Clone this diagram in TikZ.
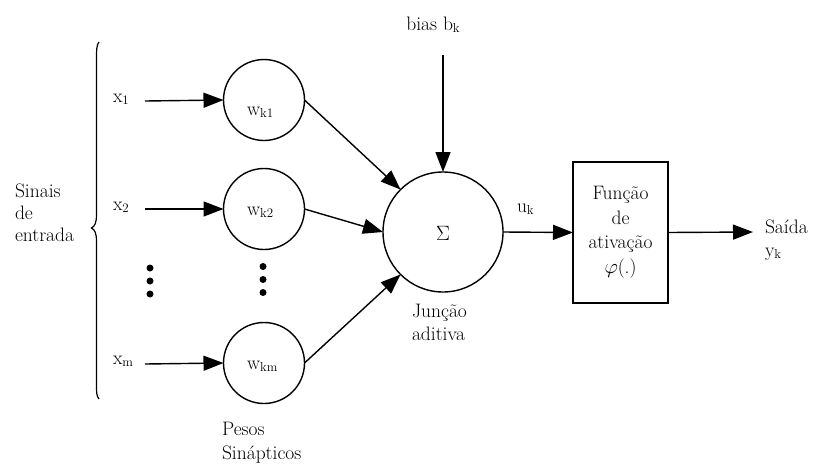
\documentclass[tikz,border=0pt]{standalone}
\usepackage{fontspec}
\usetikzlibrary{arrows.meta}
% lowered small index used for subscripts
\newcommand\lowsub[1]{\raisebox{-0.35ex}{\fontsize{13}{13}\selectfont #1}}
\begin{document}
\begin{tikzpicture}[x=1pt,y=-1pt,
  every node/.style={font=\fontsize{19.5}{22}\selectfont, inner sep=0pt, outer sep=0pt},
  txt/.style={anchor=base west},
  feed/.style={line width=1.4pt, -{Triangle[length=20pt,width=15pt]}},
  weight/.style={circle, draw, line width=1.4pt, minimum size=81pt},
  summer/.style={circle, draw, line width=1.4pt, minimum size=120pt},
  actbox/.style={rectangle, draw, line width=1.4pt, minimum width=95pt,
    minimum height=141pt, align=center, font=\fontsize{19.5}{24.5}\selectfont},
  dot/.style={circle, fill, minimum size=7pt}]
\useasboundingbox (0,0) rectangle (813,463);

% input-signal brace and its label
\draw[line width=1.2pt] (99,42) .. controls (96.5,45) and (96.5,50) .. (96.5,60)
  -- (96.5,214) .. controls (96.5,223) and (95,226) .. (91.5,228)
  .. controls (95,230) and (96.5,233) .. (96.5,242)
  -- (96.5,384) .. controls (96.5,393) and (96.5,396) .. (99,399);
\node[txt] (sinais) at (15,197) {Sinais};
\node[txt] (de) at (15,219) {de};
\node[txt] (entrada) at (15,241) {entrada};

% input labels
\node[txt] (x1) at (113,102) {x\lowsub{1}};
\node[txt] (x2) at (113,210) {x\lowsub{2}};
\node[txt] (xm) at (113,364) {x\lowsub{m}};
\coordinate (s1) at (145,101);
\coordinate (s2) at (145,209);
\coordinate (sm) at (145,364);

% synaptic weights
\node[weight] (w1) at (264,100) {};
\node[weight] (w2) at (264,209) {};
\node[weight] (wm) at (264,363) {};
\node[txt] (lw1) at (247,115) {w\lowsub{k1}};
\node[txt] (lw2) at (247,215) {w\lowsub{k2}};
\node[txt] (lwm) at (247,369) {w\lowsub{km}};

% ellipsis dots
\foreach \i/\y in {1/268,2/281,3/294} {
  \node[dot] (dl\i) at (150,\y) {};
  \node[dot] (dr\i) at (263,\y-1.5) {};
}

\node[txt] (pesos) at (222,435) {Pesos};
\node[txt] (sinap) at (222,459) {Sinápticos};

% summing junction
\node[summer] (sum) at (443,232) {};
\node[font=\fontsize{20.5}{20.5}\selectfont] (sigma) at (443,233) {$\Sigma$};
\node[txt] (jun) at (412,317) {Junção};
\node[txt] (adi) at (412,340) {aditiva};

% bias
\node[txt, anchor=base] (bias) at (433,30) {bias b\lowsub{k}};
\coordinate (bt) at (443,55);

% activation function
\node[actbox] (act) at (620.5,232.5) {Função\\de\\ativação\\$\varphi$(.)};
\node[txt] (uk) at (517,212) {u\lowsub{k}};

% output
\coordinate (out) at (753,232);
\node[txt] (saida) at (765,233) {Saída};
\node[txt] (yk) at (765,256) {y\lowsub{k}};

% connectors
\draw[feed] (s1) -- (w1.west);
\draw[feed] (s2) -- (w2.west);
\draw[feed] (sm) -- (wm.west);
\draw[feed] (w1.east) -- (sum.135);
\draw[feed] (w2.east) -- (sum.west);
\draw[feed] (wm.east) -- (sum.225);
\draw[feed] (bt) -- (sum.north);
\draw[feed] (sum.east) -- (act.west);
\draw[feed] (act.east) -- (out);
\end{tikzpicture}
\end{document}
